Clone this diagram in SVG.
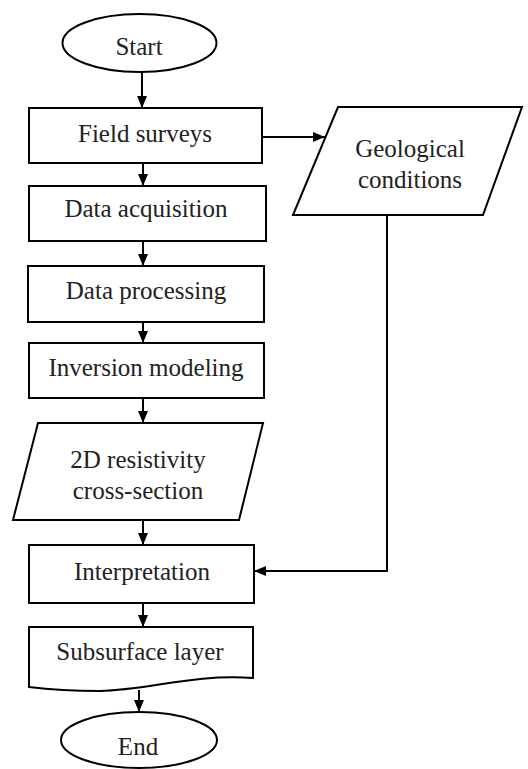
<svg xmlns="http://www.w3.org/2000/svg" width="528" height="769" viewBox="0 0 528 769">
<defs>
<style>
.s{fill:#fff;stroke:#000;stroke-width:2}
.t{font-family:'Liberation Serif',serif;font-size:25px;fill:#222;text-anchor:middle}
.c{fill:none;stroke:#000;stroke-width:2}
</style>
<marker id="ah" viewBox="0 0 12 10" refX="12" refY="5" markerWidth="12" markerHeight="10" markerUnits="userSpaceOnUse" orient="auto">
<path d="M0,0 L12,5 L0,10 z" fill="#000"/>
</marker>
</defs>
<rect width="528" height="769" fill="#fff"/>
<g id="connectors">
<path class="c" d="M142,72 V108" marker-end="url(#ah)"/>
<path class="c" d="M262,137 H325" marker-end="url(#ah)"/>
<path class="c" d="M143,163 V186" marker-end="url(#ah)"/>
<path class="c" d="M143,241 V266" marker-end="url(#ah)"/>
<path class="c" d="M143,322 V343" marker-end="url(#ah)"/>
<path class="c" d="M143,398 V423" marker-end="url(#ah)"/>
<path class="c" d="M143,520 V545" marker-end="url(#ah)"/>
<path class="c" d="M387,215 V571 H254" marker-end="url(#ah)"/>
<path class="c" d="M143,603 V627" marker-end="url(#ah)"/>
<path class="c" d="M139,690 V712" marker-end="url(#ah)"/>
</g>
<g id="start">
<ellipse class="s" cx="139.5" cy="43" rx="77" ry="29"/>
<text class="t" x="139" y="55" font-family="Liberation Serif, serif">Start</text>
</g>
<g id="field-surveys">
<rect class="s" x="29" y="108" width="233" height="55"/>
<text class="t" x="145" y="142">Field surveys</text>
</g>
<g id="geological-conditions">
<path class="s" d="M338,107 H522 L483,215 H293 Z"/>
<text class="t" x="410" y="157">Geological</text>
<text class="t" x="410" y="188">conditions</text>
</g>
<g id="data-acquisition">
<rect class="s" x="29" y="186" width="237" height="55"/>
<text class="t" x="146" y="217">Data acquisition</text>
</g>
<g id="data-processing">
<rect class="s" x="28" y="266" width="236" height="56"/>
<text class="t" x="146" y="299">Data processing</text>
</g>
<g id="inversion-modeling">
<rect class="s" x="29" y="343" width="235" height="55"/>
<text class="t" x="146" y="376">Inversion modeling</text>
</g>
<g id="resistivity-section">
<path class="s" d="M38,423 H263 L239,520 H13 Z"/>
<text class="t" x="138" y="468">2D resistivity</text>
<text class="t" x="138" y="499">cross-section</text>
</g>
<g id="interpretation">
<rect class="s" x="29" y="545" width="225" height="58"/>
<text class="t" x="142" y="580">Interpretation</text>
</g>
<g id="subsurface-layer">
<path class="s" d="M29,627 H253 V678 C190,674 150,690 100,691 C70,691 45,689 29,687 Z"/>
<text class="t" x="140" y="660">Subsurface layer</text>
</g>
<g id="end">
<ellipse class="s" cx="139" cy="740" rx="78" ry="28"/>
<text class="t" x="138" y="755">End</text>
</g>
</svg>
